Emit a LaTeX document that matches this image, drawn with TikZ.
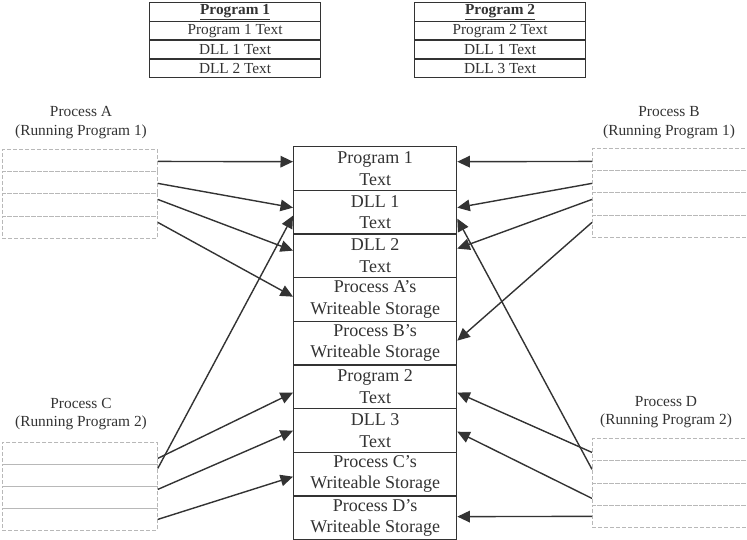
\documentclass[tikz,border=0pt]{standalone}
\usepackage{fontspec}
\setmainfont{Liberation Serif}
\usetikzlibrary{arrows.meta,calc}
\definecolor{ink}{HTML}{333333}
\definecolor{boxline}{HTML}{B8B8B8}
\begin{document}
\begin{tikzpicture}[x=1pt,y=-1pt,
  cell/.style={draw=ink, line width=1.3pt, minimum width=163pt, minimum height=43.67pt,
    inner sep=0pt, align=center, font=\fontsize{18}{21.5}\selectfont, text=ink, anchor=north west},
  tcell/.style={draw=ink, line width=1.1pt, minimum width=171pt, minimum height=19pt,
    inner sep=0pt, font=\fontsize{15.3}{18}\selectfont, text=ink, anchor=north west},
  prow/.style={draw=boxline, dash pattern=on 4pt off 2pt, line width=0.8pt,
    minimum width=155pt, minimum height=22.25pt, inner sep=0pt, anchor=north west},
  plabel/.style={align=center, font=\fontsize{15.4}{18.5}\selectfont, text=ink},
  arr/.style={draw=ink, line width=1.4pt, -{Triangle[length=12.5pt,width=11.5pt]}}]
\useasboundingbox (0,0) rectangle (747,540);
\fill[white] (0,0) rectangle (747,540);

% top tables
\node[tcell] (t1h) at (149,2) {\textbf{\underline{Program 1}}};
\node[tcell] (t1a) at (149,20.75) {Program 1 Text};
\node[tcell] (t1b) at (149,39.5) {DLL 1 Text};
\node[tcell] (t1c) at (149,58.25) {DLL 2 Text};
\node[tcell] (t2h) at (414,2) {\textbf{\underline{Program 2}}};
\node[tcell] (t2a) at (414,20.75) {Program 2 Text};
\node[tcell] (t2b) at (414,39.5) {DLL 1 Text};
\node[tcell] (t2c) at (414,58.25) {DLL 3 Text};

% central memory column
\node[cell] (m1) at (293,146) {Program 1\\Text};
\node[cell] (m2) at (293,189.67) {DLL 1\\Text};
\node[cell] (m3) at (293,233.33) {DLL 2\\Text};
\node[cell] (m4) at (293,277) {Process A's\\Writeable Storage};
\node[cell] (m5) at (293,320.67) {Process B's\\Writeable Storage};
\node[cell] (m6) at (293,364.33) {Program 2\\Text};
\node[cell] (m7) at (293,408) {DLL 3\\Text};
\node[cell] (m8) at (293,451.67) {Process C's\\Writeable Storage};
\node[cell] (m9) at (293,495.33) {Process D's\\Writeable Storage};

% process labels
\node[plabel] (la) at (81,122.5) {Process A\\(Running Program 1)};
\node[plabel] (lb) at (669,122.5) {Process B\\(Running Program 1)};
\node[plabel] (lc) at (81,414) {Process C\\(Running Program 2)};
\node[plabel] (ld) at (666,412) {Process D\\(Running Program 2)};

% process boxes
\node[prow] (pa1) at (2,149) {};
\node[prow] (pa2) at (2,171.25) {};
\node[prow] (pa3) at (2,193.5) {};
\node[prow] (pa4) at (2,215.75) {};
\node[prow] (pb1) at (592,148) {};
\node[prow] (pb2) at (592,170.25) {};
\node[prow] (pb3) at (592,192.5) {};
\node[prow] (pb4) at (592,214.75) {};
\node[prow, minimum height=22pt] (pc1) at (2,442) {};
\node[prow, minimum height=22pt] (pc2) at (2,464) {};
\node[prow, minimum height=22pt] (pc3) at (2,486) {};
\node[prow, minimum height=22pt] (pc4) at (2,508) {};
\node[prow] (pd1) at (592,438) {};
\node[prow] (pd2) at (592,460.25) {};
\node[prow] (pd3) at (592,482.5) {};
\node[prow] (pd4) at (592,504.75) {};

% arrows from process A
\draw[arr] ([yshift=-0.9pt]pa1.east) -- ([yshift=6.8pt]m1.west);
\draw[arr] ([yshift=-0.6pt]pa2.east) -- ([yshift=4.5pt]m2.west);
\draw[arr] ([yshift=5.6pt]pa3.east) -- ([yshift=5.2pt]m3.west);
\draw[arr] ([yshift=4.9pt]pa4.east) -- ([yshift=2.8pt]m4.west);
% arrows from process B
\draw[arr] ([yshift=-1.9pt]pb1.west) -- ([yshift=6.8pt]m1.east);
\draw[arr] ([yshift=-1.6pt]pb2.west) -- ([yshift=4.5pt]m2.east);
\draw[arr] ([yshift=4.6pt]pb3.west) -- ([yshift=7.2pt]m3.east);
\draw[arr] ([yshift=3.9pt]pb4.west) -- ([yshift=2.5pt]m5.east);
% arrows from process C
\draw[arr] ([yshift=-5pt]pc1.east) -- ([yshift=-5.8pt]m6.west);
\draw[arr] ([yshift=7pt]pc2.east) -- ([yshift=-3.5pt]m2.west);
\draw[arr] ([yshift=8pt]pc3.east) -- ([yshift=-0.2pt]m7.west);
\draw[arr] ([yshift=0pt]pc4.east) -- ([yshift=-2.5pt]m8.west);
% arrows from process D
\draw[arr] ([yshift=-2.9pt]pd1.west) -- ([yshift=-5.8pt]m6.east);
\draw[arr] ([yshift=2.4pt]pd2.west) -- ([yshift=-6.5pt]m2.east);
\draw[arr] ([yshift=-4.4pt]pd3.west) -- ([yshift=-1.2pt]m7.east);
\draw[arr] ([yshift=-0.1pt]pd4.west) -- ([yshift=1.2pt]m9.east);
\end{tikzpicture}
\end{document}
